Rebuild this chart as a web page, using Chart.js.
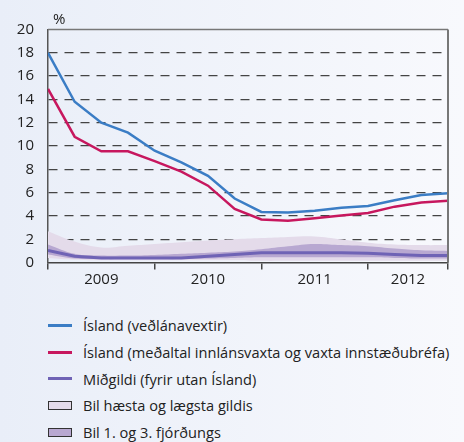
<!DOCTYPE html>
<html>
<head>
<meta charset="utf-8">
<script src="https://cdn.jsdelivr.net/npm/chart.js@4"></script>
<style>
  html, body { margin: 0; padding: 0; }
  body {
    width: 464px; height: 442px; overflow: hidden; position: relative;
    background: linear-gradient(90deg, #e9eef8, #f8f9fd);
    font-family: "Open Sans", sans-serif; color: #222;
  }
  #wrap { position: absolute; left: 0; top: 0; width: 464px; height: 290px; }
  #unit { position: absolute; left: 53px; top: 8px; font-size: 15px; }
  #legend { position: absolute; left: 48px; top: 312px; }
  .row { height: 26.7px; display: flex; align-items: center; font-size: 14.6px; white-space: nowrap; }
  .sw { width: 24px; margin-right: 11px; box-sizing: border-box; }
</style>
</head>
<body>
<div id="wrap"><canvas id="chart"></canvas></div>
<div id="unit">%</div>
<div id="legend"></div>

<script>
// quarterly values, 2009 Q1 .. 2012 Q4 (index 0..15)
const yearLabels = ["2009", "2010", "2011", "2012"];
const yearStart = [0, 4, 8, 12];
const lastQuarter = 15;
const yTicks = [0, 2, 4, 6, 8, 10, 12, 14, 16, 18, 20];

const mortgage = [18.0, 13.8, 12.0, 11.15, 9.6, 8.6, 7.45, 5.5, 4.35, 4.3, 4.45, 4.7, 4.85, 5.35, 5.8, 5.95];
const deposits = [14.9, 10.8, 9.55, 9.55, 8.7, 7.8, 6.6, 4.6, 3.7, 3.6, 3.8, 4.05, 4.25, 4.8, 5.15, 5.3];
const median = [1.05, 0.55, 0.4, 0.4, 0.4, 0.4, 0.55, 0.7, 0.85, 0.85, 0.85, 0.85, 0.8, 0.7, 0.6, 0.6];
const maxVal = [2.7, 1.8, 1.3, 1.45, 1.6, 1.75, 1.9, 2.0, 2.1, 2.2, 2.25, 2.0, 1.7, 1.55, 1.5, 1.5];
const minVal = [0.4, 0.25, 0.2, 0.2, 0.2, 0.2, 0.2, 0.2, 0.15, 0.15, 0.15, 0.15, 0.15, 0.15, 0.15, 0.15];
const q3 = [1.55, 0.75, 0.6, 0.6, 0.65, 0.75, 0.85, 0.95, 1.15, 1.4, 1.6, 1.5, 1.4, 1.2, 1.05, 1.0];
const q1 = [0.7, 0.35, 0.3, 0.3, 0.3, 0.3, 0.35, 0.4, 0.45, 0.45, 0.45, 0.45, 0.45, 0.4, 0.35, 0.35];

const names = [
  "Ísland (veðlánavextir)",
  "Ísland (meðaltal innlánsvaxta og vaxta innstæðubréfa)",
  "Miðgildi (fyrir utan Ísland)",
  "Bil hæsta og lægsta gildis",
  "Bil 1. og 3. fjórðungs"
];

const blue = "#3b7dc5", red = "#c7175e", purple = "#6f63b5";
const light = "#e4dbea", dark = "#b8a8d1";

const pts = arr => arr.map((v, i) => ({ x: i, y: v }));

// year label sits in the middle of each year's span
const labelPos = {};
yearStart.forEach((s, i) => {
  const end = i < yearStart.length - 1 ? yearStart[i + 1] : lastQuarter;
  labelPos[(s + end) / 2] = yearLabels[i];
});
const isEdge = v => yearStart.includes(v) || v === lastQuarter;

const frame = {
  id: "frame",
  afterDatasetsDraw(chart) {
    const { ctx, chartArea: a } = chart;
    ctx.save();
    ctx.strokeStyle = "#777";
    ctx.lineWidth = 1.5;
    ctx.beginPath();
    ctx.moveTo(a.left, a.top);
    ctx.lineTo(a.right, a.top);
    ctx.stroke();
    ctx.lineWidth = 2;
    ctx.beginPath();
    ctx.moveTo(a.right, a.top);
    ctx.lineTo(a.right, a.bottom);
    ctx.stroke();
    ctx.restore();
  }
};

const line = (label, data, color, width, order) => ({
  label, data: pts(data), borderColor: color, borderWidth: width,
  pointRadius: 0, tension: 0, fill: false, order
});
const band = (data, fill, color, order) => ({
  label: "", data: pts(data), borderWidth: 0, borderColor: "transparent",
  backgroundColor: color, pointRadius: 0, tension: 0.4, fill, order
});

new Chart(document.getElementById("chart"), {
  type: "line",
  data: {
    datasets: [
      line(names[0], mortgage, blue, 2.5, 1),
      line(names[1], deposits, red, 2.5, 2),
      line(names[2], median, purple, 3, 3),
      band(q3, "+1", dark, 4),
      band(q1, false, dark, 5),
      band(maxVal, "+1", light, 6),
      band(minVal, false, light, 7)
    ]
  },
  options: {
    responsive: true,
    maintainAspectRatio: false,
    animation: false,
    layout: { padding: { left: 0, right: 16, top: 29.5, bottom: 0 } },
    plugins: { legend: { display: false }, tooltip: { enabled: false } },
    scales: {
      x: {
        type: "linear", min: 0, max: lastQuarter,
        afterBuildTicks: s => { s.ticks = [...new Set([...yearStart, lastQuarter, ...Object.keys(labelPos).map(Number)])].sort((a, b) => a - b).map(v => ({ value: v })); },
        afterFit: s => { s.height = 27.4; },
        grid: {
          drawOnChartArea: false, tickLength: 7, lineWidth: 1.5,
          tickColor: c => isEdge(c.tick.value) ? "#444" : "transparent"
        },
        border: { color: "#444", width: 1.5 },
        ticks: {
          autoSkip: false, maxRotation: 0, padding: 1, color: "#222",
          font: { family: "Open Sans", size: 15 },
          callback: v => labelPos[v] || ""
        }
      },
      y: {
        min: 0, max: 20,
        afterBuildTicks: s => { s.ticks = yTicks.map(v => ({ value: v })); },
        afterFit: s => { s.width = 48; },
        grid: {
          drawTicks: false, lineWidth: 1.3,
          color: c => (c.tick.value === 0 || c.tick.value === 20) ? "transparent" : "#444"
        },
        border: { color: "#555", width: 1.5, dash: [9, 7] },
        ticks: { padding: 14, color: "#222", font: { family: "Open Sans", size: 15 } }
      }
    }
  },
  plugins: [frame]
});

// legend below the chart
const legendItems = [
  { name: names[0], color: blue, kind: "line" },
  { name: names[1], color: red, kind: "line" },
  { name: names[2], color: purple, kind: "line" },
  { name: names[3], color: light, kind: "box" },
  { name: names[4], color: dark, kind: "box" }
];
const legend = document.getElementById("legend");
legendItems.forEach(it => {
  const row = document.createElement("div");
  row.className = "row";
  const sw = document.createElement("div");
  sw.className = "sw";
  if (it.kind === "line") {
    sw.style.height = "3px";
    sw.style.background = it.color;
  } else {
    sw.style.height = "9px";
    sw.style.background = it.color;
    sw.style.border = "1.5px solid #333";
  }
  const txt = document.createElement("span");
  txt.textContent = it.name;
  row.appendChild(sw);
  row.appendChild(txt);
  legend.appendChild(row);
});
</script>
</body>
</html>
